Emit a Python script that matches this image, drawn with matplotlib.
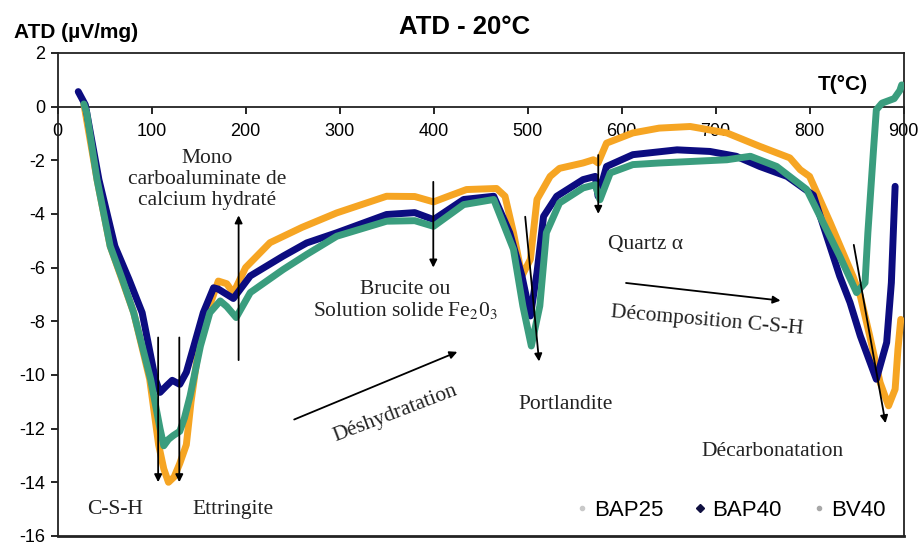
import matplotlib
matplotlib.use("Agg")
import matplotlib.pyplot as plt
from matplotlib.lines import Line2D

plt.rcParams['font.family'] = ['Liberation Sans', 'DejaVu Sans']
plt.rcParams['mathtext.fontset'] = 'stix'
plt.rcParams['axes.unicode_minus'] = False

SERIF = ['Liberation Serif', 'DejaVu Serif']

# DTA curves, temperature (°C) vs signal (µV/mg)
bap25_t = [28, 42, 56, 81, 98, 107.5, 113, 118, 124, 130, 137, 142, 150, 160, 171, 180, 187,
           200, 226, 260, 297, 350, 380, 400, 415, 435, 467, 476, 485, 494, 503, 510, 524,
           534, 559, 570, 575, 584, 612, 640, 673, 712, 747, 779, 790, 800, 822, 846, 854,
           864, 875, 884, 891, 894, 897]
bap25_v = [0.1, -2.72, -5.2, -7.68, -10.16, -12.6, -13.5, -14.0, -13.8, -13.3, -12.6, -11.0,
           -9.0, -7.6, -6.5, -6.6, -6.95, -6.0, -5.07, -4.5, -3.96, -3.34, -3.35, -3.55,
           -3.35, -3.09, -3.05, -3.34, -4.70, -6.31, -5.69, -3.46, -2.6, -2.3, -2.1, -1.98,
           -2.1, -1.36, -0.98, -0.8, -0.74, -0.98, -1.48, -1.91, -2.35, -2.6, -4.33, -6.31,
           -7.06, -8.55, -10.28, -11.15, -10.53, -9.04, -7.93]

bap40_t = [22, 29.5, 44, 61, 76, 90, 104, 109, 116, 122, 130, 137, 145, 155, 166, 171, 187,
           205, 240, 265, 297, 350, 380, 400, 432, 464, 481, 494, 503, 510, 517, 531, 559,
           572, 575, 584, 612, 659, 694, 722, 747, 776, 804, 832, 843, 854, 871, 882, 887,
           891]
bap40_v = [0.56, 0.07, -2.72, -5.2, -6.44, -7.68, -10.16, -10.65, -10.4, -10.2, -10.35, -9.9,
           -8.92, -7.68, -6.75, -6.8, -7.15, -6.31, -5.57, -5.08, -4.70, -4.02, -3.95, -4.21,
           -3.46, -3.34, -4.70, -6.31, -7.80, -6.19, -4.09, -3.34, -2.72, -2.60, -3.34,
           -2.23, -1.79, -1.61, -1.67, -1.85, -2.23, -2.60, -3.3, -6.31, -7.3, -8.55, -10.16,
           -8.79, -6.56, -2.97]

bv40_t = [28, 31, 42, 56, 69, 81, 99, 109, 113, 118, 123, 130, 135, 141, 152, 162, 173, 180,
          190, 205, 240, 265, 297, 350, 380, 400, 432, 464, 485, 495, 504, 513, 520, 534,
          559, 572, 577, 588, 612, 640, 676, 712, 737, 765, 797, 832, 850, 859, 862, 868,
          871, 877, 890, 896, 898]
bv40_v = [0.1, -0.23, -2.72, -5.2, -6.44, -7.68, -10.16, -12.0, -12.64, -12.4, -12.26, -12.1,
          -11.6, -10.78, -8.92, -7.68, -7.24, -7.45, -7.86, -6.93, -6.07, -5.51, -4.83,
          -4.27, -4.25, -4.46, -3.65, -3.46, -5.32, -7.43, -8.92, -7.43, -4.70, -3.59, -3.03,
          -2.91, -3.47, -2.47, -2.16, -2.1, -2.04, -1.98, -1.85, -2.23, -3.09, -5.57, -6.93,
          -6.56, -4.70, -1.61, -0.12, 0.13, 0.3, 0.6, 0.81]

series_names = ['BAP25', 'BAP40', 'BV40']
series_colors = ['#F6A523', '#0C0C80', '#3A9D7E']

x_ticks = list(range(0, 1000, 100))
y_ticks = list(range(-16, 4, 2))

fig = plt.figure(figsize=(9.18, 5.45), dpi=100)
ax = fig.add_axes([0.0627, 0.0166, 0.9216, 0.8862])

for t, v, c in zip([bap25_t, bap40_t, bv40_t], [bap25_v, bap40_v, bv40_v], series_colors):
    ax.plot(t, v, color=c, lw=5.0, solid_joinstyle='round', solid_capstyle='round', zorder=3)

ax.set_xlim(0, 900)
ax.set_ylim(-16, 2)
ax.set_xticks(x_ticks)
ax.set_yticks(y_ticks)

# x axis crosses at 0, outer box kept all round
ax.spines['bottom'].set_position(('data', 0))
for s in ax.spines.values():
    s.set_linewidth(1.3)
    s.set_color('#222222')
ax.plot([0, 900], [-16, -16], color='#222222', lw=2.0, clip_on=False, zorder=4)
ax.tick_params(axis='x', direction='out', length=5, width=1.2, pad=7, labelsize=13)
ax.tick_params(axis='y', direction='out', length=5, width=1.2, pad=4, labelsize=13)

# phase annotations
arrow_kw = dict(arrowstyle='-|>', color='black', lw=1.3, mutation_scale=11)
arrows = [
    ((107, -14.1), (107, -8.5)),
    ((129.5, -14.1), (129.5, -8.5)),
    ((192.6, -3.95), (192.6, -9.55)),
    ((399.7, -6.1), (399.7, -2.7)),
    ((512.5, -9.6), (497.2, -4.0)),
    ((575.2, -4.1), (575.2, -1.7)),
    ((881.3, -11.9), (846.5, -5.05)),
    ((428, -9.1), (249, -11.7)),
    ((772, -7.24), (601.8, -6.56)),
]
for head, tail in arrows:
    ax.annotate('', xy=head, xytext=tail, arrowprops=arrow_kw, zorder=5)

txt_kw = dict(fontsize=15.5, family=SERIF, ha='center', va='center', color='#222222', zorder=6)
ax.text(159, -2.72, 'Mono\ncarboaluminate de\ncalcium hydraté', linespacing=1.13, **txt_kw)
ax.text(61.5, -15.0, 'C-S-H', **txt_kw)
ax.text(186.6, -15.0, 'Ettringite', **txt_kw)
ax.text(369.6, -7.22, 'Brucite ou\nSolution solide Fe$_2$0$_3$', linespacing=1.1, **txt_kw)
ax.text(540, -11.1, 'Portlandite', **txt_kw)
ax.text(625, -5.15, 'Quartz α', **txt_kw)
ax.text(691, -7.98, 'Décomposition C-S-H', rotation=-5, **txt_kw)
ax.text(359, -11.45, 'Déshydratation', rotation=21, **txt_kw)
ax.text(761, -12.85, 'Décarbonatation', **txt_kw)

fig.text(0.5065, 0.951, 'ATD - 20°C', fontsize=18.5, fontweight='bold', ha='center', va='center')
fig.text(0.015, 0.94, 'ATD (µV/mg)', fontsize=15, fontweight='bold', ha='left', va='center')
ax.text(0.958, 0.934, 'T(°C)', transform=ax.transAxes, fontsize=15, fontweight='bold',
        ha='right', va='center')

handles = [
    Line2D([], [], ls='none', marker='o', ms=3, color='#C9C9C9'),
    Line2D([], [], ls='none', marker='D', ms=4, color='#101040'),
    Line2D([], [], ls='none', marker='o', ms=3, color='#A8A8A8'),
]
ax.legend(handles, series_names, loc='lower right', bbox_to_anchor=(1.002, -0.01), ncol=3,
          frameon=False, fontsize=16, handlelength=0.8, handletextpad=0.15,
          columnspacing=1.25)

fig.savefig('out.png', dpi=100, facecolor='white')
